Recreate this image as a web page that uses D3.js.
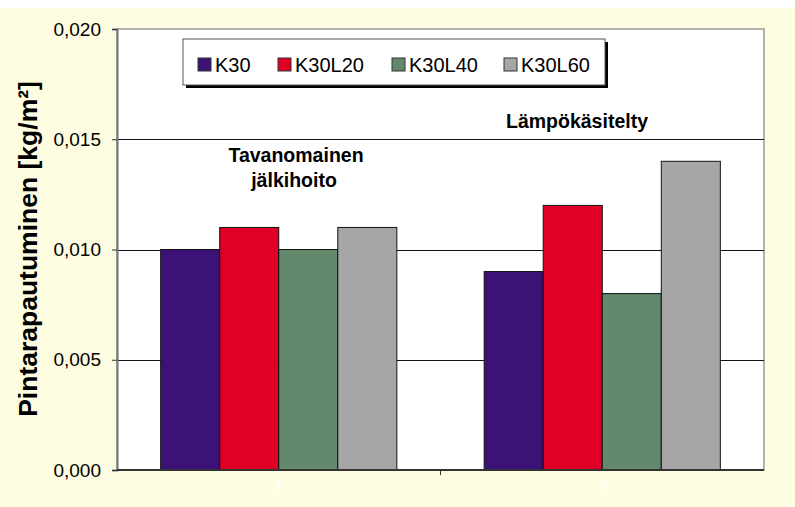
<!DOCTYPE html>
<html lang="en">
<head>
    <meta charset="UTF-8">
    <title>Pintarapautuminen</title>
    <script src="https://d3js.org/d3.v7.min.js"></script>
    <style>
        body, html {
            margin: 0;
            padding: 0;
            background: #fff;
        }
        svg {
            display: block;
            font-family: Arial, "Liberation Sans", sans-serif;
        }
    </style>
</head>
<body>
    <script>
        // data
        const categories = ["1", "2"];
        const seriesNames = ["K30", "K30L20", "K30L40", "K30L60"];
        const seriesColors = ["#3d1276", "#e00025", "#62896c", "#a6a6a6"];
        const values = [
            [0.010, 0.011, 0.010, 0.011],
            [0.009, 0.012, 0.008, 0.014]
        ];
        const yTicks = [0, 0.005, 0.010, 0.015, 0.020];

        const width = 795, height = 507;
        const margin = {top: 29, right: 31, bottom: 37, left: 117};

        const svg = d3.select("body").append("svg")
            .attr("width", width)
            .attr("height", height);

        // cream background with a white strip at the top
        svg.append("rect").attr("width", width).attr("height", height).attr("fill", "#fff");
        svg.append("rect").attr("y", 8).attr("width", width).attr("height", height - 8).attr("fill", "#fefce1");

        const x0 = d3.scaleBand()
            .domain(categories)
            .range([margin.left, width - margin.right])
            .paddingInner(0.27)
            .paddingOuter(0.135);

        const x1 = d3.scaleBand()
            .domain(seriesNames)
            .range([0, x0.bandwidth()]);

        const y = d3.scaleLinear()
            .domain([0, 0.020])
            .range([height - margin.bottom, margin.top]);

        const color = d3.scaleOrdinal().domain(seriesNames).range(seriesColors);

        // plot area
        svg.append("rect")
            .attr("x", margin.left)
            .attr("y", margin.top)
            .attr("width", width - margin.left - margin.right)
            .attr("height", height - margin.top - margin.bottom)
            .attr("fill", "#fff")
            .attr("stroke", "#999")
            .attr("stroke-width", 1.5);

        // gridlines
        svg.append("g")
            .selectAll("line")
            .data(yTicks.filter(d => d > 0 && d < 0.020))
            .enter().append("line")
            .attr("x1", margin.left)
            .attr("x2", width - margin.right)
            .attr("y1", d => Math.round(y(d)) + 0.5)
            .attr("y2", d => Math.round(y(d)) + 0.5)
            .attr("stroke", "#111")
            .attr("stroke-width", 1);

        // bars
        const groups = svg.append("g")
            .selectAll("g")
            .data(values)
            .enter().append("g")
            .attr("transform", (d, i) => `translate(${x0(categories[i])},0)`);

        groups.selectAll("rect")
            .data(d => d.map((v, j) => ({key: seriesNames[j], value: v})))
            .enter().append("rect")
            .attr("x", d => x1(d.key))
            .attr("y", d => y(d.value))
            .attr("width", x1.bandwidth())
            .attr("height", d => y(0) - y(d.value))
            .attr("fill", d => color(d.key))
            .attr("stroke", "#111")
            .attr("stroke-width", 1);

        // y axis
        const yAxis = svg.append("g")
            .attr("transform", `translate(${margin.left},0)`)
            .call(d3.axisLeft(y)
                .tickValues(yTicks)
                .tickSize(5)
                .tickFormat(d => d3.format(".3f")(d).replace(".", ",")));
        yAxis.select(".domain").attr("stroke", "#777").attr("stroke-width", 2);
        yAxis.selectAll(".tick line").attr("stroke", "#333");
        yAxis.selectAll(".tick text")
            .attr("x", -16)
            .attr("font-size", "19px")
            .attr("font-family", "Arial, 'Liberation Sans', sans-serif")
            .attr("fill", "#000");

        // x axis line
        svg.append("line")
            .attr("x1", margin.left)
            .attr("x2", width - margin.right)
            .attr("y1", y(0))
            .attr("y2", y(0))
            .attr("stroke", "#333")
            .attr("stroke-width", 2);
        svg.append("line")
            .attr("x1", margin.left + (width - margin.left - margin.right) / 2)
            .attr("x2", margin.left + (width - margin.left - margin.right) / 2)
            .attr("y1", y(0))
            .attr("y2", y(0) + 5)
            .attr("stroke", "#333");

        // category labels (white, nearly invisible)
        svg.append("g")
            .selectAll("text")
            .data(categories)
            .enter().append("text")
            .attr("x", d => x0(d) + x0.bandwidth() / 2)
            .attr("y", 490)
            .attr("text-anchor", "middle")
            .attr("font-size", "15px")
            .attr("fill", "#fff")
            .text(d => d);

        // y title
        svg.append("text")
            .attr("transform", "translate(37,249) rotate(-90)")
            .attr("text-anchor", "middle")
            .attr("font-size", "26.5px")
            .attr("font-weight", "bold")
            .text("Pintarapautuminen [kg/m²]");

        // annotations
        svg.append("text")
            .attr("x", 577).attr("y", 128)
            .attr("text-anchor", "middle")
            .attr("font-size", "19.5px")
            .attr("font-weight", "bold")
            .text("Lämpökäsitelty");
        const ann = svg.append("text")
            .attr("text-anchor", "middle")
            .attr("font-size", "19.5px")
            .attr("font-weight", "bold");
        ann.append("tspan").attr("x", 296).attr("y", 162).text("Tavanomainen");
        ann.append("tspan").attr("x", 294).attr("y", 187).text("jälkihoito");

        // legend
        const legend = svg.append("g").attr("transform", "translate(183,39)");
        legend.append("rect")
            .attr("x", 3).attr("y", 3)
            .attr("width", 422).attr("height", 46)
            .attr("fill", "#000");
        legend.append("rect")
            .attr("width", 422).attr("height", 46)
            .attr("fill", "#fff")
            .attr("stroke", "#555")
            .attr("stroke-width", 1);
        const legendX = [15, 95, 209, 321];
        const items = legend.selectAll("g.item")
            .data(seriesNames)
            .enter().append("g")
            .attr("class", "item")
            .attr("transform", (d, i) => `translate(${legendX[i]},19)`);
        items.append("rect")
            .attr("width", 13).attr("height", 13)
            .attr("fill", d => color(d))
            .attr("stroke", "#333");
        items.append("text")
            .attr("x", 17)
            .attr("y", 13.5)
            .attr("font-size", "20px")
            .text(d => d);
    </script>
</body>
</html>
